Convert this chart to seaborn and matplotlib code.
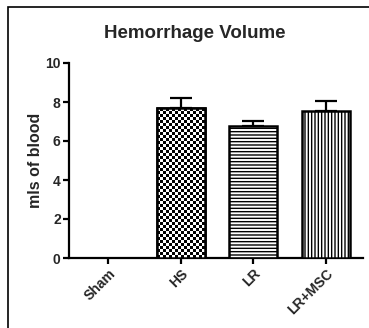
import numpy as np
import pandas as pd
import matplotlib
matplotlib.use("Agg")
import matplotlib.pyplot as plt
import seaborn as sns
from matplotlib.patches import Rectangle

categories = ["Sham", "HS", "LR", "LR+MSC"]
means = [0.0, 7.68, 6.78, 7.54]
sems = [0.0, 0.54, 0.25, 0.5]
yticks = [0, 2, 4, 6, 8, 10]

sns.set_theme(style="white")
plt.rcParams["font.family"] = ["Liberation Sans", "DejaVu Sans"]
plt.rcParams["hatch.linewidth"] = 1.0

df = pd.DataFrame({"group": categories, "value": means})

fig = plt.figure(figsize=(3.69, 3.28), dpi=100)
fig.patch.set_facecolor("white")
ax = fig.add_axes([69/369, 1-258/328, (363-69)/369, (258-63)/328])

sns.barplot(data=df, x="group", y="value", order=categories, color="white",
            edgecolor="black", linewidth=1.8, width=0.66, errorbar=None, ax=ax,
            zorder=3)

hatches = [None, None, "-----", "|||||"]
for p, h in zip(ax.patches, hatches):
    p.set_facecolor("white")
    p.set_edgecolor("black")
    if h:
        p.set_hatch(h)

# checkerboard texture for HS bar
hs = ax.patches[1]
x0, y0 = hs.get_x(), hs.get_y()
w, hgt = hs.get_width(), hs.get_height()
nx, ny = 16, 50
checker = (np.add.outer(np.arange(ny), np.arange(nx)) % 2).astype(float)
im = ax.imshow(checker, cmap="gray", extent=[x0, x0 + w, y0, y0 + hgt],
               aspect="auto", interpolation="nearest", zorder=3.5, origin="lower")
im.set_clip_path(hs)
outline = Rectangle((x0, y0), w, hgt, fill=False, edgecolor="black",
                    linewidth=1.8, zorder=4)
ax.add_patch(outline)

xs = [i for i, s in enumerate(sems) if s > 0]
ax.errorbar(xs, [means[i] for i in xs],
            yerr=[[0]*len(xs), [sems[i] for i in xs]],
            fmt="none", ecolor="black", elinewidth=1.6, capsize=8, capthick=1.6,
            zorder=2)

ax.set_xlim(-0.54, 3.51)
ax.set_ylim(0, 10)
ax.set_yticks(yticks)
ax.set_yticklabels([str(t) for t in yticks], fontsize=10, fontweight="bold")
ax.set_xticks(range(len(categories)))
ax.set_xticklabels(categories, rotation=45, ha="right", rotation_mode="anchor",
                   fontsize=10, fontweight="bold")
ax.set_xlabel("")
ax.set_ylabel("mls of blood", fontsize=11.5, fontweight="bold")
ax.yaxis.set_label_coords(-0.088, 0.5)

for side in ["top", "right"]:
    ax.spines[side].set_visible(False)
for side in ["left", "bottom"]:
    ax.spines[side].set_linewidth(1.6)
    ax.spines[side].set_color("black")
ax.tick_params(axis="both", which="major", length=4, width=1.6, color="black",
               direction="out", pad=2, bottom=True, left=True)
ax.set_facecolor("white")
ax.grid(False)

fig.text(195/369, 1-33/328, "Hemorrhage Volume", ha="center", va="center",
         fontsize=13.5, fontweight="bold")

border = Rectangle((8/369, -0.1), 1.2, 1-7/328+0.1, transform=fig.transFigure,
                   fill=False, edgecolor="black", linewidth=1.2)
fig.patches.append(border)

fig.savefig("out.png", dpi=100)
